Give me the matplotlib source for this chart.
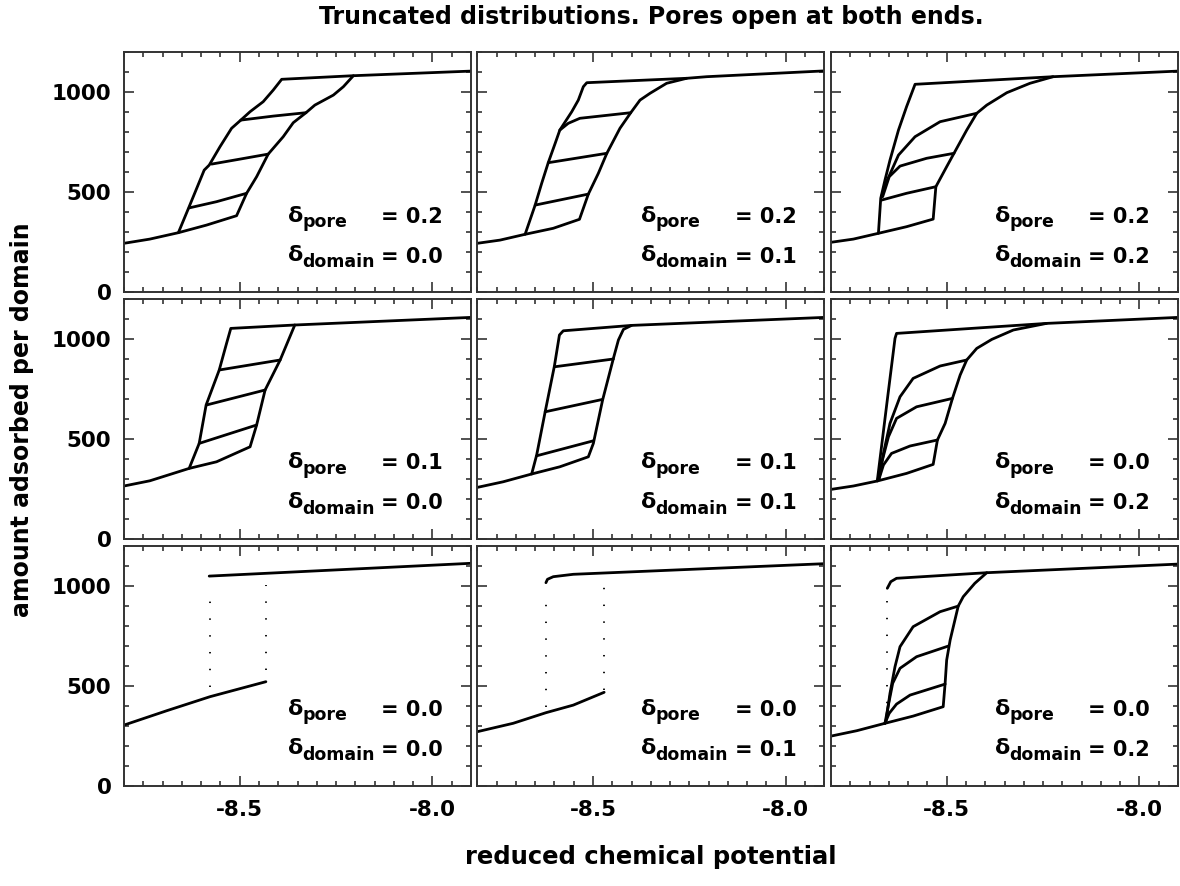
import matplotlib
matplotlib.use("Agg")
import matplotlib.pyplot as plt
from matplotlib.ticker import MultipleLocator, FormatStrFormatter

plt.rcParams['font.family'] = ['DejaVu Sans']
plt.rcParams['font.weight'] = 'bold'
plt.rcParams['axes.unicode_minus'] = False

# ---------------- data ----------------
XLIM = (-8.8, -7.9)
YLIM = (0, 1200)
XTICKS_MAJOR = 0.5
YTICKS_MAJOR = 500

DELTA_PORE = ["0.2", "0.2", "0.2", "0.1", "0.1", "0.0", "0.0", "0.0", "0.0"]
DELTA_DOMAIN = ["0.0", "0.1", "0.2", "0.0", "0.1", "0.2", "0.0", "0.1", "0.2"]

# panel (0,0)
P00_ADS_X = [-8.80, -8.733, -8.659, -8.586, -8.508, -8.482, -8.456, -8.426, -8.387, -8.361, -8.328, -8.305, -8.257, -8.231, -8.205, -7.90]
P00_ADS_Y = [245, 266, 298, 336, 383, 495, 578, 691, 778, 848, 898, 936, 986, 1028, 1083, 1106]
P00_DES_X = [-8.205, -8.391, -8.413, -8.439, -8.473, -8.497, -8.521, -8.551, -8.579, -8.592, -8.631, -8.659]
P00_DES_Y = [1083, 1065, 1011, 953, 903, 861, 820, 728, 636, 611, 428, 298]
P00_SCAN_X = [[-8.482, -8.560, -8.631], [-8.426, -8.499, -8.573], [-8.328, -8.413, -8.497]]
P00_SCAN_Y = [[495, 453, 422], [691, 666, 641], [898, 881, 861]]

# panel (0,1)
P01_ADS_X = [-8.80, -8.741, -8.676, -8.603, -8.535, -8.512, -8.486, -8.464, -8.430, -8.402, -8.378, -8.352, -8.309, -8.257, -8.205, -7.90]
P01_ADS_Y = [245, 261, 290, 320, 365, 491, 595, 695, 820, 898, 961, 995, 1045, 1070, 1078, 1107]
P01_DES_X = [-8.257, -8.516, -8.525, -8.538, -8.555, -8.586, -8.598, -8.616, -8.633, -8.650, -8.676]
P01_DES_Y = [1070, 1048, 1028, 961, 903, 811, 745, 648, 545, 436, 290]
P01_SCAN_X = [[-8.512, -8.650], [-8.464, -8.616], [-8.402, -8.534, -8.564, -8.586]]
P01_SCAN_Y = [[491, 436], [695, 648], [898, 870, 845, 811]]

# panel (0,2)
P02_ADS_X = [-8.80, -8.742, -8.677, -8.604, -8.535, -8.528, -8.500, -8.481, -8.448, -8.422, -8.396, -8.344, -8.284, -8.224, -7.90]
P02_ADS_Y = [250, 266, 295, 328, 366, 528, 628, 695, 811, 895, 936, 998, 1045, 1078, 1106]
P02_DES_X = [-8.224, -8.582, -8.604, -8.625, -8.647, -8.660, -8.671, -8.677]
P02_DES_Y = [1078, 1040, 928, 811, 661, 561, 470, 295]
P02_SCAN_X = [[-8.528, -8.604, -8.669], [-8.481, -8.552, -8.621, -8.649, -8.666],
              [-8.422, -8.517, -8.582, -8.625, -8.654, -8.669]]
P02_SCAN_Y = [[528, 495, 461], [695, 670, 631, 578, 478], [895, 853, 778, 686, 561, 478]]

# panel (1,0)
P10_ADS_X = [-8.80, -8.733, -8.631, -8.560, -8.473, -8.456, -8.434, -8.395, -8.357, -7.90]
P10_ADS_Y = [265, 291, 353, 386, 461, 570, 745, 895, 1070, 1108]
P10_DES_X = [-8.357, -8.523, -8.534, -8.553, -8.587, -8.605, -8.631]
P10_DES_Y = [1070, 1053, 978, 845, 670, 478, 353]
P10_SCAN_X = [[-8.456, -8.605], [-8.434, -8.586], [-8.395, -8.553]]
P10_SCAN_Y = [[570, 478], [745, 670], [895, 845]]

# panel (1,1)
P11_ADS_X = [-8.80, -8.733, -8.659, -8.586, -8.512, -8.499, -8.475, -8.447, -8.434, -8.421, -8.400, -7.90]
P11_ADS_Y = [258, 286, 325, 361, 411, 478, 695, 903, 995, 1048, 1068, 1108]
P11_DES_X = [-8.400, -8.577, -8.587, -8.600, -8.624, -8.646, -8.659]
P11_DES_Y = [1068, 1041, 1020, 865, 636, 420, 325]
P11_SCAN_X = [[-8.499, -8.646], [-8.475, -8.624], [-8.447, -8.600]]
P11_SCAN_Y = [[491, 416], [698, 636], [900, 861]]

# panel (1,2)
P12_ADS_X = [-8.80, -8.742, -8.680, -8.604, -8.535, -8.524, -8.504, -8.485, -8.465, -8.448, -8.422, -8.383, -8.327, -8.241, -7.90]
P12_ADS_Y = [248, 265, 290, 328, 373, 495, 578, 703, 820, 895, 953, 998, 1045, 1078, 1108]
P12_DES_X = [-8.241, -8.630, -8.634, -8.654, -8.669, -8.680]
P12_DES_Y = [1078, 1028, 1003, 695, 461, 290]
P12_SCAN_X = [[-8.524, -8.595, -8.643, -8.664, -8.675], [-8.485, -8.578, -8.630, -8.651, -8.669, -8.678],
              [-8.448, -8.517, -8.587, -8.621, -8.647, -8.664, -8.675]]
P12_SCAN_Y = [[495, 465, 428, 370, 303], [703, 661, 603, 511, 378, 300], [895, 865, 803, 711, 578, 428, 303]]

# panel (2,0): sharp steps, dotted vertical jumps
P20_LOW_X = [-8.80, -8.689, -8.577, -8.432]
P20_LOW_Y = [303, 375, 445, 520]
P20_UP_X = [-8.579, -7.90]
P20_UP_Y = [1048, 1112]
P20_DOT_X = [-8.576, -8.432]
P20_DOT_Y0 = [495, 578]
P20_DOT_Y1 = [995, 1003]

# panel (2,1)
P21_LOW_X = [-8.80, -8.707, -8.622, -8.551, -8.471]
P21_LOW_Y = [270, 312, 365, 403, 467]
P21_UP_X = [-8.622, -8.618, -8.603, -8.551, -7.90]
P21_UP_Y = [1015, 1032, 1045, 1057, 1110]
P21_DOT_X = [-8.622, -8.471]
P21_DOT_Y0 = [395, 478]
P21_DOT_Y1 = [962, 1020]

# panel (2,2)
P22_ADS_X = [-8.80, -8.733, -8.660, -8.587, -8.509, -8.504, -8.500, -8.491, -8.470, -8.457, -8.427, -8.396, -7.90]
P22_ADS_Y = [248, 275, 312, 348, 395, 512, 628, 728, 898, 945, 1012, 1065, 1108]
P22_DES_X = [-8.396, -8.630, -8.645, -8.654]
P22_DES_Y = [1065, 1037, 1020, 987]
P22_SCAN_X = [[-8.504, -8.595, -8.630, -8.649, -8.660], [-8.496, -8.578, -8.621, -8.640, -8.652, -8.660],
              [-8.470, -8.517, -8.587, -8.621, -8.634, -8.647, -8.657, -8.660]]
P22_SCAN_Y = [[508, 453, 408, 362, 312], [698, 645, 587, 512, 395, 312], [898, 870, 795, 695, 595, 462, 328, 312]]
P22_DOT_X = [-8.656]
P22_DOT_Y0 = [328]
P22_DOT_Y1 = [962]

# ---------------- layout ----------------
W, H = 1180, 886
fig = plt.figure(figsize=(W / 100, H / 100), dpi=100)

col_left = [124, 477.3, 831]
row_bottom = [292.3, 539.0, 785.7]
pw, ph = 347, 240

LW = 2.0
DOT_STYLE = dict(color='black', lw=1.3, linestyle=(0, (0.8, 8.5)))

solid = {
    (0, 0): ([(P00_ADS_X, P00_ADS_Y), (P00_DES_X, P00_DES_Y)] + list(zip(P00_SCAN_X, P00_SCAN_Y)), []),
    (0, 1): ([(P01_ADS_X, P01_ADS_Y), (P01_DES_X, P01_DES_Y)] + list(zip(P01_SCAN_X, P01_SCAN_Y)), []),
    (0, 2): ([(P02_ADS_X, P02_ADS_Y), (P02_DES_X, P02_DES_Y)] + list(zip(P02_SCAN_X, P02_SCAN_Y)), []),
    (1, 0): ([(P10_ADS_X, P10_ADS_Y), (P10_DES_X, P10_DES_Y)] + list(zip(P10_SCAN_X, P10_SCAN_Y)), []),
    (1, 1): ([(P11_ADS_X, P11_ADS_Y), (P11_DES_X, P11_DES_Y)] + list(zip(P11_SCAN_X, P11_SCAN_Y)), []),
    (1, 2): ([(P12_ADS_X, P12_ADS_Y), (P12_DES_X, P12_DES_Y)] + list(zip(P12_SCAN_X, P12_SCAN_Y)), []),
    (2, 0): ([(P20_LOW_X, P20_LOW_Y), (P20_UP_X, P20_UP_Y)],
             list(zip(P20_DOT_X, P20_DOT_Y0, P20_DOT_Y1))),
    (2, 1): ([(P21_LOW_X, P21_LOW_Y), (P21_UP_X, P21_UP_Y)],
             list(zip(P21_DOT_X, P21_DOT_Y0, P21_DOT_Y1))),
    (2, 2): ([(P22_ADS_X, P22_ADS_Y), (P22_DES_X, P22_DES_Y)] + list(zip(P22_SCAN_X, P22_SCAN_Y)),
             list(zip(P22_DOT_X, P22_DOT_Y0, P22_DOT_Y1))),
}

FS_TICK = 15.5
FS_DELTA = 16
FS_SUB = 12.5
FS_VAL = 15

for r in range(3):
    for c in range(3):
        ax = fig.add_axes([col_left[c] / W, 1 - row_bottom[r] / H, pw / W, ph / H])
        lines, dots = solid[(r, c)]
        for xs, ys in lines:
            ax.plot(xs, ys, color='black', lw=LW, solid_joinstyle='round', solid_capstyle='round')
        for xd, y0, y1 in dots:
            ax.plot([xd, xd], [y0, y1], **DOT_STYLE)
        ax.set_xlim(*XLIM)
        ax.set_ylim(*YLIM)
        ax.xaxis.set_major_locator(MultipleLocator(XTICKS_MAJOR))
        ax.xaxis.set_minor_locator(MultipleLocator(0.05))
        ax.yaxis.set_major_locator(MultipleLocator(YTICKS_MAJOR))
        ax.yaxis.set_minor_locator(MultipleLocator(100))
        ax.xaxis.set_major_formatter(FormatStrFormatter('%.1f'))
        ax.tick_params(which='both', direction='in', top=True, right=True,
                       width=1.2, color='#333333', labelsize=FS_TICK)
        ax.tick_params(which='major', length=7)
        ax.tick_params(which='minor', length=3.5)
        ax.tick_params(axis='x', pad=10)
        ax.tick_params(axis='y', pad=9)
        for s in ax.spines.values():
            s.set_linewidth(1.4)
            s.set_color('#333333')
        if c != 0:
            ax.tick_params(labelleft=False)
        if r != 2:
            ax.tick_params(labelbottom=False)
        for lab in ax.get_xticklabels() + ax.get_yticklabels():
            lab.set_fontweight('bold')

        k = r * 3 + c
        ax.text(0.472, 0.294, "\u03b4", transform=ax.transAxes, fontsize=FS_DELTA,
                fontweight='bold', ha='left', va='baseline')
        ax.text(0.514, 0.272, "pore", transform=ax.transAxes, fontsize=FS_SUB,
                fontweight='bold', ha='left', va='baseline')
        ax.text(0.920, 0.290, "= " + DELTA_PORE[k], transform=ax.transAxes, fontsize=FS_VAL,
                fontweight='bold', ha='right', va='baseline')
        ax.text(0.472, 0.130, "\u03b4", transform=ax.transAxes, fontsize=FS_DELTA,
                fontweight='bold', ha='left', va='baseline')
        ax.text(0.514, 0.106, "domain", transform=ax.transAxes, fontsize=FS_SUB,
                fontweight='bold', ha='left', va='baseline')
        ax.text(0.920, 0.123, "= " + DELTA_DOMAIN[k], transform=ax.transAxes, fontsize=FS_VAL,
                fontweight='bold', ha='right', va='baseline')

fig.text(651 / W, 1 - 17 / H, "Truncated distributions. Pores open at both ends.",
         ha='center', va='center', fontsize=17, fontweight='bold')
fig.text(651 / W, 1 - 857 / H, "reduced chemical potential",
         ha='center', va='center', fontsize=17.5, fontweight='bold')
fig.text(22 / W, 1 - 420 / H, "amount adsorbed per domain", rotation=90,
         ha='center', va='center', fontsize=17, fontweight='bold')

fig.savefig("out.png", dpi=100)
